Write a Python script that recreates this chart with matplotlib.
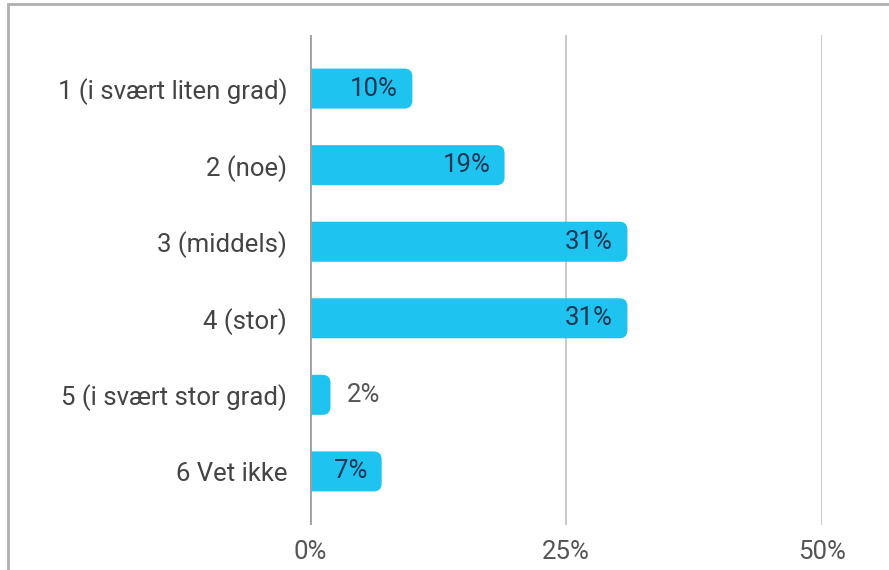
import numpy as np
import matplotlib.pyplot as plt
from matplotlib.patches import FancyBboxPatch, Rectangle

plt.rcParams['font.family'] = ['Roboto', 'DejaVu Sans']

categories = ['1 (i svært liten grad)', '2 (noe)', '3 (middels)', '4 (stor)',
              '5 (i svært stor grad)', '6 Vet ikke']
values = [10, 19, 31, 31, 2, 7]
labels = ['10%', '19%', '31%', '31%', '2%', '7%']
ticks = [0, 25, 50]
tick_labels = ['0%', '25%', '50%']

W, H = 889, 570
fig = plt.figure(figsize=(W / 100, H / 100), dpi=100)
# axes box in pixels: x 310..822, y 35..525
ax = fig.add_axes([310 / W, (H - 525) / H, (822 - 310) / W, (525 - 35) / H])
ax.set_xlim(0, 50)
ax.set_ylim(len(categories) - 0.3, -0.7)

px_x = 50 / 512          # data units per pixel, x
px_y = 6.4 / 490         # data units per pixel, y
bar_h = 40 * px_y
rad = 8 * px_x
col = '#1ec3f0'
fs = 18.5

for i, v in enumerate(values):
    p = FancyBboxPatch((-2 * rad, i - bar_h / 2), v + 2 * rad, bar_h,
                       boxstyle=f'round,pad=0,rounding_size={rad}',
                       mutation_aspect=px_y / px_x,
                       fc=col, ec='none', zorder=2)
    ax.add_patch(p)
    if v >= 5:
        ax.text(v - 1.4, i, labels[i], ha='right', va='center',
                fontsize=fs, color='#1d3552', zorder=4)
    else:
        ax.text(v + 1.6, i, labels[i], ha='left', va='center',
                fontsize=fs, color='#555555', zorder=4)

ax.axvline(0, color='#9e9e9e', lw=2, zorder=3)
for t in ticks[1:]:
    ax.axvline(t, color='#c4c4c4', lw=1.3, zorder=1)

ax.set_yticks(range(len(categories)))
ax.set_yticklabels(categories, fontsize=fs, color='#444444')
ax.set_xticks(ticks)
ax.set_xticklabels(tick_labels, fontsize=fs, color='#555555')
ax.tick_params(length=0)
ax.tick_params(axis='y', pad=16.5)
ax.tick_params(axis='x', pad=11)
for s in ax.spines.values():
    s.set_visible(False)

# outer frame
fig.patches.append(Rectangle((8 / W, -0.01), 1.1, (H - 4) / H + 0.01,
                             transform=fig.transFigure, fill=False,
                             ec='#b0b0b0', lw=2, zorder=0))

fig.savefig('out.png', dpi=100)
